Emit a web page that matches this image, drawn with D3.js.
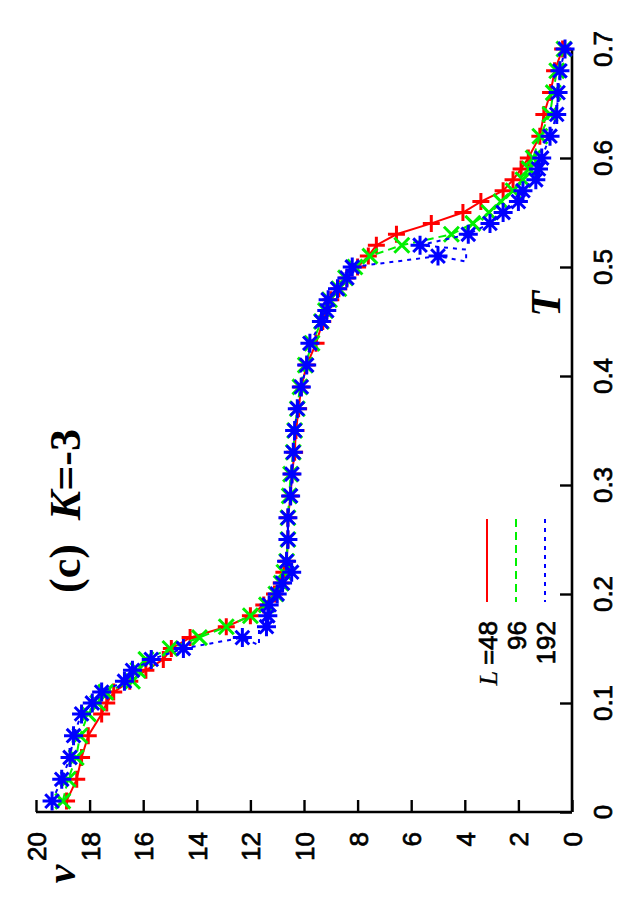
<!DOCTYPE html>
<html>
<head>
<meta charset="utf-8">
<script src="https://cdn.jsdelivr.net/npm/d3@7"></script>
<style>
  body { margin: 0; background: #fff; }
  svg { display: block; }
</style>
</head>
<body>
<svg id="drawing_region"></svg>
<script>
// temperatures T and velocities v
const tRed   = [0.01,0.03,0.05,0.07,0.09,0.10,0.11,0.12,0.13,0.14,0.15,0.16,0.17,0.18,0.19,0.20,0.21,0.22,0.23,0.25,0.27,0.29,0.31,0.33,0.35,0.37,0.39,0.41,0.43,0.45,0.46,0.47,0.48,0.49,0.50,0.51,0.52,0.53,0.54,0.55,0.56,0.57,0.58,0.59,0.60,0.62,0.64,0.66,0.68,0.70];
const vRed   = [18.86,18.48,18.3,18.05,17.55,17.36,17.1,16.5,15.9,15.25,14.95,14.25,12.9,12.0,11.5,11.1,10.85,10.75,10.65,10.6,10.6,10.5,10.45,10.35,10.3,10.2,10.1,9.9,9.55,9.3,9.15,9.0,8.7,8.4,8.0,7.6,7.3,6.55,5.25,4.07,3.4,2.57,2.2,1.9,1.63,1.2,1.05,0.8,0.65,0.35];

const tGreen = [0.01,0.03,0.05,0.07,0.09,0.10,0.11,0.12,0.13,0.14,0.15,0.16,0.17,0.18,0.19,0.20,0.21,0.22,0.23,0.25,0.27,0.29,0.31,0.33,0.35,0.37,0.39,0.41,0.43,0.45,0.46,0.47,0.48,0.49,0.50,0.51,0.52,0.53,0.54,0.55,0.56,0.57,0.58,0.59,0.60,0.62,0.64,0.66,0.68,0.70];
const vGreen = [19.0,18.8,18.5,18.36,18.05,17.7,17.4,16.4,16.2,15.9,15.0,13.9,12.9,12.0,11.4,11.05,10.85,10.75,10.65,10.6,10.6,10.55,10.5,10.4,10.35,10.25,10.15,9.95,9.7,9.35,9.2,9.05,8.7,8.45,8.1,7.54,6.35,4.5,3.7,3.1,2.65,2.2,1.83,1.6,1.45,1.2,0.82,0.7,0.57,0.3];

// blue is listed in plotting order, two turning points carry no marker
const tBlue  = [0.01,0.03,0.05,0.07,0.09,0.10,0.11,0.12,0.13,0.14,0.15,0.16,0.153,0.167,0.17,0.18,0.19,0.20,0.21,0.22,0.23,0.25,0.27,0.29,0.31,0.33,0.35,0.37,0.39,0.41,0.43,0.45,0.46,0.47,0.48,0.49,0.50,0.51,0.505,0.516,0.52,0.53,0.54,0.55,0.56,0.57,0.58,0.59,0.60,0.62,0.64,0.66,0.68,0.70];
const vBlue  = [19.4,19.04,18.73,18.6,18.3,17.9,17.55,16.7,16.4,15.7,14.5,12.3,11.68,11.68,11.4,11.35,11.3,11.0,10.8,10.46,10.65,10.6,10.6,10.5,10.45,10.4,10.35,10.25,10.1,9.9,9.78,9.35,9.15,9.1,8.75,8.4,8.2,5.0,3.95,3.95,5.67,3.87,3.06,2.57,2.0,1.83,1.35,1.25,1.13,0.82,0.57,0.52,0.45,0.26];
const blueNoMarker = [12, 13, 38, 39];

const seriesNames = ['48', '96', '192'];
const tTicks = [0,0.1,0.2,0.3,0.4,0.5,0.6,0.7];
const vTicks = [0,2,4,6,8,10,12,14,16,18,20];

const W = 631, H = 900;
const svg = d3.select('#drawing_region').attr('width', W).attr('height', H);

// the chart is turned a quarter: T runs up the right side, v runs right to left along the bottom
const vscale = d3.scaleLinear().domain([0, 20]).range([572, 36]);
const tscale = d3.scaleLinear().domain([0, 0.7]).range([812, 49]);

const sans = 'Liberation Sans, Arial, Helvetica, sans-serif';
const serif = 'Liberation Serif, Times New Roman, serif';

// axes
const vaxis = d3.axisTop(vscale).tickValues(vTicks).tickSize(12).tickFormat('');
const taxis = d3.axisLeft(tscale).tickValues(tTicks).tickSize(12).tickFormat('');
const vg = svg.append('g').attr('transform', 'translate(0,812)').call(vaxis);
const tg = svg.append('g').attr('transform', 'translate(572,0)').call(taxis);
[vg, tg].forEach(g => {
    g.select('.domain').attr('stroke', '#000').attr('stroke-width', 2.6).attr('d',
        g === vg ? `M${vscale(20)},0H${vscale(0)}` : `M0,${tscale(0)}V${tscale(0.7)}`);
    g.selectAll('.tick line').attr('stroke', '#000').attr('stroke-width', 2.4);
});

// tick labels (rotated)
svg.append('g').selectAll('text').data(vTicks).join('text')
    .attr('transform', d => `translate(${vscale(d) + 10},832) rotate(-90)`)
    .attr('text-anchor', 'end')
    .attr('font-family', sans).attr('font-size', 26)
    .attr('stroke', '#000').attr('stroke-width', 0.7)
    .text(d => d);

svg.append('g').selectAll('text').data(tTicks).join('text')
    .attr('transform', d => `translate(612,${tscale(d)}) rotate(-90)`)
    .attr('text-anchor', 'middle')
    .attr('font-family', sans).attr('font-size', 26)
    .attr('stroke', '#000').attr('stroke-width', 0.7)
    .text(d => d);

// axis names
svg.append('text')
    .attr('transform', 'translate(75,874) rotate(-90)')
    .attr('text-anchor', 'middle')
    .attr('font-family', serif).attr('font-style', 'italic').attr('font-weight', 'bold')
    .attr('font-size', 42)
    .text('v');

svg.append('text')
    .attr('transform', 'translate(560,304) rotate(-90)')
    .attr('text-anchor', 'middle')
    .attr('font-family', serif).attr('font-style', 'italic').attr('font-weight', 'bold')
    .attr('font-size', 42)
    .text('T');

// panel title
const title = svg.append('text')
    .attr('transform', 'translate(80,593) rotate(-90)')
    .attr('font-family', serif).attr('font-size', 44);
title.append('tspan').attr('font-weight', 'bold').text('(c)');
title.append('tspan').attr('dx', 24).attr('font-style', 'italic').attr('font-weight', 'bold').text('K');
title.append('tspan').attr('font-weight', 'bold').text('=-3');

// markers
function plusPath(s) { return `M${-s},0H${s}M0,${-s}V${s}`; }
function timesPath(s) { return `M${-s},${-s}L${s},${s}M${-s},${s}L${s},${-s}`; }
function starPath(s) { const d = s * 0.72; return plusPath(s) + `M${-d},${-d}L${d},${d}M${-d},${d}L${d},${-d}`; }

const series = [
    { name: seriesNames[0], t: tRed,   v: vRed,   color: '#ff0000', dash: null,  marker: () => plusPath(8.5),  skip: [] },
    { name: seriesNames[1], t: tGreen, v: vGreen, color: '#00f000', dash: '8,5', marker: () => timesPath(7.5), skip: [] },
    { name: seriesNames[2], t: tBlue,  v: vBlue,  color: '#0000ff', dash: '4,5', marker: () => starPath(9.5),  skip: blueNoMarker }
];

const line = d3.line().x(d => vscale(d[1])).y(d => tscale(d[0]));

series.forEach(s => {
    const pts = s.t.map((t, i) => [t, s.v[i]]);
    svg.append('path')
        .datum(pts)
        .attr('d', line)
        .attr('fill', 'none')
        .attr('stroke', s.color)
        .attr('stroke-width', 2)
        .attr('stroke-dasharray', s.dash);
    svg.append('g').selectAll('path')
        .data(pts.filter((p, i) => !s.skip.includes(i)))
        .join('path')
        .attr('transform', d => `translate(${vscale(d[1])},${tscale(d[0])})`)
        .attr('d', s.marker)
        .attr('fill', 'none')
        .attr('stroke', s.color)
        .attr('stroke-width', 3);
});

// legend
const legX = [487, 516, 545];
series.forEach((s, i) => {
    svg.append('line')
        .attr('x1', legX[i]).attr('x2', legX[i])
        .attr('y1', 519).attr('y2', 602)
        .attr('stroke', s.color).attr('stroke-width', 2)
        .attr('stroke-dasharray', s.dash);
    const tx = svg.append('text')
        .attr('transform', `translate(${legX[i] + 10},621) rotate(-90)`)
        .attr('text-anchor', 'end')
        .attr('font-family', sans).attr('font-size', 26)
        .attr('stroke', '#000').attr('stroke-width', 0.7);
    if (i === 0) {
        tx.append('tspan').attr('font-family', serif).attr('font-style', 'italic')
            .attr('stroke-width', 0.3).text('L ');
    }
    tx.append('tspan').text(i === 0 ? '=' + s.name : s.name);
});
</script>
</body>
</html>
